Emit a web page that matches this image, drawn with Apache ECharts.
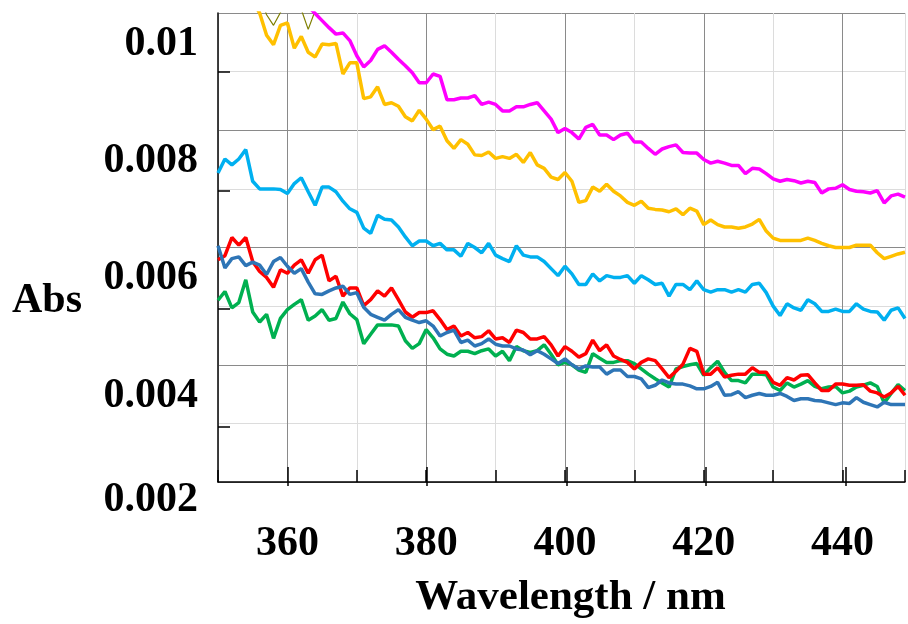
<!DOCTYPE html>
<html><head><meta charset="utf-8">
<script src="https://cdn.jsdelivr.net/npm/echarts@6/dist/echarts.min.js"></script>
<style>html,body{margin:0;padding:0;background:#fff}#c{width:908px;height:624px}</style>
</head><body><div id="c"></div>
<script>
const wavelength = [350,351,352,353,354,355,356,357,358,359,360,361,362,363,364,365,366,367,368,369,370,371,372,373,374,375,376,377,378,379,380,381,382,383,384,385,386,387,388,389,390,391,392,393,394,395,396,397,398,399,400,401,402,403,404,405,406,407,408,409,410,411,412,413,414,415,416,417,418,419,420,421,422,423,424,425,426,427,428,429,430,431,432,433,434,435,436,437,438,439,440,441,442,443,444,445,446,447,448,449];

const magenta = [null,null,null,null,null,null,null,null,null,null,null,null,null,0.01012,
0.00999,0.00987,0.00975,0.00964,0.00966,0.00953,0.00927,0.00908,0.00919,0.00938,0.00944,0.00933,0.00921,0.00910,0.00898,0.00881,0.00881,0.00896,0.00892,
0.00852,0.00852,0.00855,0.00855,0.00859,0.00844,0.00848,0.00844,0.00833,0.00833,0.00840,0.00840,0.00844,0.00847,0.00833,0.00819,0.00796,0.00803,0.00796,0.00785,0.00805,0.00810,0.00792,0.00792,0.00784,0.00792,0.00795,0.00780,0.00780,0.00769,0.00759,0.00768,0.00772,
0.00775,0.00762,0.00761,0.00761,0.00750,0.00744,0.00747,0.00744,0.00740,0.00740,0.00726,0.00735,0.00734,0.00726,0.00717,0.00713,0.00716,0.00714,0.00710,0.00713,0.00711,0.00693,0.00700,0.00701,0.00707,0.00699,0.00696,0.00695,0.00693,0.00697,0.00676,0.00688,0.00691,0.00686];

const yellow = [null,null,null,null,null,0.0102,0.0100,
0.00962,0.00946,0.00979,0.00983,0.00940,0.00960,0.00933,0.00925,0.00947,0.00946,0.00948,0.00896,0.00915,0.00915,0.00854,0.00857,0.00874,0.00844,0.00847,0.00841,0.00823,0.00816,0.00834,0.00819,0.00801,0.00807,
0.00782,0.00769,0.00784,0.00776,0.00758,0.00757,0.00763,0.00752,0.00755,0.00752,0.00759,0.00745,0.00762,0.00741,0.00735,0.00720,0.00716,0.00728,0.00713,0.00677,0.00680,0.00703,0.00696,0.00708,0.00696,0.00688,0.00677,0.00672,0.00679,0.00667,0.00665,0.00664,0.00661,
0.00666,0.00656,0.00667,0.00662,0.00639,0.00647,0.00639,0.00635,0.00635,0.00633,0.00635,0.00640,0.00648,0.00628,0.00616,0.00612,0.00612,0.00612,0.00612,0.00616,0.00612,0.00607,0.00603,0.00600,0.00600,0.00600,0.00604,0.00604,0.00604,0.00591,0.00581,0.00585,0.00589,0.00592];

const cyan = [0.00727,0.00751,0.00741,0.00751,0.00767,0.00713,0.00700,0.00700,0.00700,0.00699,0.00692,0.00709,0.00719,0.00695,0.00672,0.00703,0.00703,0.00695,0.00679,0.00666,0.00660,0.00633,0.00624,0.00655,0.00648,0.00647,0.00635,0.00618,0.00603,0.00611,0.00611,0.00603,0.00607,
0.00596,0.00596,0.00585,0.00607,0.00600,0.00591,0.00607,0.00587,0.00581,0.00576,0.00603,0.00587,0.00584,0.00584,0.00576,0.00564,0.00552,0.00568,0.00555,0.00537,0.00537,0.00555,0.00543,0.00552,0.00549,0.00549,0.00552,0.00539,0.00552,0.00545,0.00537,0.00539,0.00517,
0.00537,0.00537,0.00528,0.00543,0.00528,0.00524,0.00528,0.00528,0.00524,0.00528,0.00524,0.00537,0.00539,0.00523,0.00500,0.00484,0.00504,0.00497,0.00493,0.00511,0.00504,0.00491,0.00491,0.00495,0.00491,0.00491,0.00504,0.00495,0.00491,0.00490,0.00476,0.00493,0.00497,0.00479];

const red = [0.00579,0.00586,0.00617,0.00604,0.00617,0.00576,0.00559,0.00549,0.00532,0.00562,0.00556,0.00570,0.00579,0.00556,0.00579,0.00587,0.00543,0.00551,0.00517,0.00531,0.00531,0.00501,0.00511,0.00526,0.00517,0.00531,0.00511,0.00490,0.00481,0.00489,0.00489,0.00492,0.00477,
0.00460,0.00466,0.00449,0.00455,0.00446,0.00448,0.00458,0.00444,0.00446,0.00438,0.00459,0.00455,0.00444,0.00444,0.00448,0.00434,0.00415,0.00431,0.00423,0.00413,0.00419,0.00442,0.00424,0.00434,0.00415,0.00409,0.00404,0.00393,0.00404,0.00410,0.00407,0.00393,0.00378,
0.00389,0.00401,0.00428,0.00423,0.00384,0.00384,0.00395,0.00379,0.00382,0.00384,0.00384,0.00395,0.00387,0.00387,0.00370,0.00365,0.00378,0.00374,0.00382,0.00383,0.00369,0.00356,0.00356,0.00367,0.00367,0.00365,0.00365,0.00366,0.00355,0.00352,0.00345,0.00352,0.00363,0.00348];

const blue = [0.00603,0.00565,0.00581,0.00584,0.00569,0.00575,0.00570,0.00554,0.00576,0.00583,0.00568,0.00556,0.00564,0.00541,0.00521,0.00520,0.00526,0.00531,0.00534,0.00520,0.00523,0.00498,0.00486,0.00481,0.00476,0.00486,0.00494,0.00481,0.00476,0.00472,0.00475,0.00466,0.00449,
0.00455,0.00459,0.00438,0.00442,0.00432,0.00436,0.00444,0.00435,0.00432,0.00432,0.00427,0.00425,0.00417,0.00424,0.00418,0.00410,0.00402,0.00410,0.00400,0.00393,0.00398,0.00396,0.00396,0.00384,0.00391,0.00391,0.00380,0.00380,0.00376,0.00361,0.00365,0.00374,0.00369,
0.00367,0.00367,0.00364,0.00359,0.00359,0.00363,0.00370,0.00348,0.00349,0.00354,0.00344,0.00348,0.00351,0.00348,0.00348,0.00351,0.00346,0.00339,0.00342,0.00342,0.00339,0.00338,0.00335,0.00332,0.00335,0.00334,0.00344,0.00336,0.00332,0.00328,0.00336,0.00332,0.00332,0.00332];

const green = [0.00510,0.00525,0.00497,0.00506,0.00545,0.00490,0.00473,0.00486,0.00445,0.00479,0.00494,0.00503,0.00511,0.00476,0.00483,0.00494,0.00476,0.00479,0.00507,0.00487,0.00477,0.00436,0.00452,0.00468,0.00468,0.00468,0.00466,0.00441,0.00428,0.00436,0.00460,0.00446,0.00427,
0.00418,0.00415,0.00423,0.00423,0.00419,0.00424,0.00427,0.00415,0.00423,0.00407,0.00431,0.00424,0.00421,0.00424,0.00434,0.00418,0.00400,0.00404,0.00400,0.00391,0.00387,0.00419,0.00411,0.00404,0.00404,0.00407,0.00407,0.00402,0.00393,0.00384,0.00376,0.00369,0.00362,
0.00393,0.00397,0.00400,0.00402,0.00382,0.00395,0.00406,0.00387,0.00373,0.00373,0.00369,0.00384,0.00384,0.00383,0.00362,0.00356,0.00369,0.00362,0.00367,0.00373,0.00363,0.00359,0.00362,0.00363,0.00352,0.00355,0.00362,0.00365,0.00369,0.00363,0.00335,0.00351,0.00366,0.00356];

const olive = [null,null,null,null,null,null,0.0103,0.00997,0.00979,0.01001,0.01025,0.01025,0.01006,0.00972,0.01004,0.0103];

const xTickLabels = [360,380,400,420,440];
const yTickValues = [0.002,0.004,0.006,0.008,0.010];
const yTickLabels = ['0.002','0.004','0.006','0.008','0.01'];
const yMinorTicks = [0.003,0.005,0.007,0.009];

const FONT = '"Liberation Serif","Times New Roman",serif';
const txt = {fontFamily:FONT, fontWeight:'bold', fontSize:42, color:'#000'};

function pairs(arr){ const out=[]; for(let i=0;i<arr.length;i++){ out.push([wavelength[i], arr[i]]); } return out; }

const chart = echarts.init(document.getElementById('c'));
const gridRect = {left:218, top:13, right:0, bottom:138};
const LW = 3.5;
chart.setOption({
  animation:false,
  backgroundColor:'#fff',
  grid:[Object.assign({},gridRect), Object.assign({},gridRect)],
  xAxis:[{
    gridIndex:0, type:'value', min:350, max:449, interval:10,
    axisLine:{show:true, lineStyle:{color:'#000', width:1.5}},
    axisTick:{show:true, inside:true, length:12, lineStyle:{color:'#000', width:1.5}},
    axisLabel:Object.assign({margin:41, showMinLabel:true, showMaxLabel:true,
      formatter:v=> xTickLabels.indexOf(Math.round(v))>=0 ? String(Math.round(v)) : ''}, txt),
    splitLine:{show:true, lineStyle:{color:['#dcdcdc','#8a8a8a'], width:1}},
    name:'{n|Wavelength / nm}', nameLocation:'middle', nameGap:94,
    nameTextStyle:{rich:{n:Object.assign({}, txt, {fontSize:43, padding:[0,0,0,18]})}}
  },{
    gridIndex:1, type:'value', min:350, max:449,
    axisLine:{show:false},
    axisTick:{show:true, inside:true, length:19, customValues:xTickLabels, lineStyle:{color:'#000', width:1.5}},
    axisLabel:{show:false}, splitLine:{show:false}
  }],
  yAxis:[{
    gridIndex:0, type:'value', min:0.002, max:0.010, interval:0.001,
    axisLine:{show:true, lineStyle:{color:'#000', width:1.5}},
    axisTick:{show:false},
    axisLabel:{margin:20, showMinLabel:true, showMaxLabel:true,
      formatter:function(v){
        const k = yTickValues.findIndex(t=>Math.abs(t-v)<1e-7);
        if(k<0) return '';
        return (k===0 ? '{b|' : '{a|') + yTickLabels[k] + '}';
      },
      rich:{
        a:Object.assign({padding:[62,0,0,0]}, txt),
        b:Object.assign({padding:[36,0,0,0]}, txt)
      }
    },
    splitLine:{show:true, lineStyle:{color:['#8a8a8a','#dcdcdc'], width:1}},
    name:'{n|Abs}', nameLocation:'middle', nameRotate:0, nameGap:136,
    nameTextStyle:{rich:{n:Object.assign({}, txt, {padding:[108,0,0,0]})}}
  },{
    gridIndex:1, type:'value', min:0.002, max:0.010,
    axisLine:{show:false},
    axisTick:{show:true, inside:true, length:12, customValues:yMinorTicks, lineStyle:{color:'#000', width:1.5}},
    axisLabel:{show:false}, splitLine:{show:false}
  }],
  series:[
    {name:'olive', type:'line', data:pairs(olive), showSymbol:false, clip:true, lineStyle:{color:'#7f7f00', width:1.2}, itemStyle:{color:'#7f7f00'}},
    {name:'cyan', type:'line', data:pairs(cyan), showSymbol:false, clip:true, lineStyle:{color:'#00b0f0', width:LW}, itemStyle:{color:'#00b0f0'}},
    {name:'yellow', type:'line', data:pairs(yellow), showSymbol:false, clip:true, lineStyle:{color:'#ffc000', width:LW}, itemStyle:{color:'#ffc000'}},
    {name:'magenta', type:'line', data:pairs(magenta), showSymbol:false, clip:true, lineStyle:{color:'#ff00ff', width:LW}, itemStyle:{color:'#ff00ff'}},
    {name:'green', type:'line', data:pairs(green), showSymbol:false, clip:true, lineStyle:{color:'#00b050', width:LW}, itemStyle:{color:'#00b050'}},
    {name:'red', type:'line', data:pairs(red), showSymbol:false, clip:true, lineStyle:{color:'#ff0000', width:LW}, itemStyle:{color:'#ff0000'}},
    {name:'blue', type:'line', data:pairs(blue), showSymbol:false, clip:true, lineStyle:{color:'#2e75b6', width:LW}, itemStyle:{color:'#2e75b6'}}
  ]
});
</script></body></html>
